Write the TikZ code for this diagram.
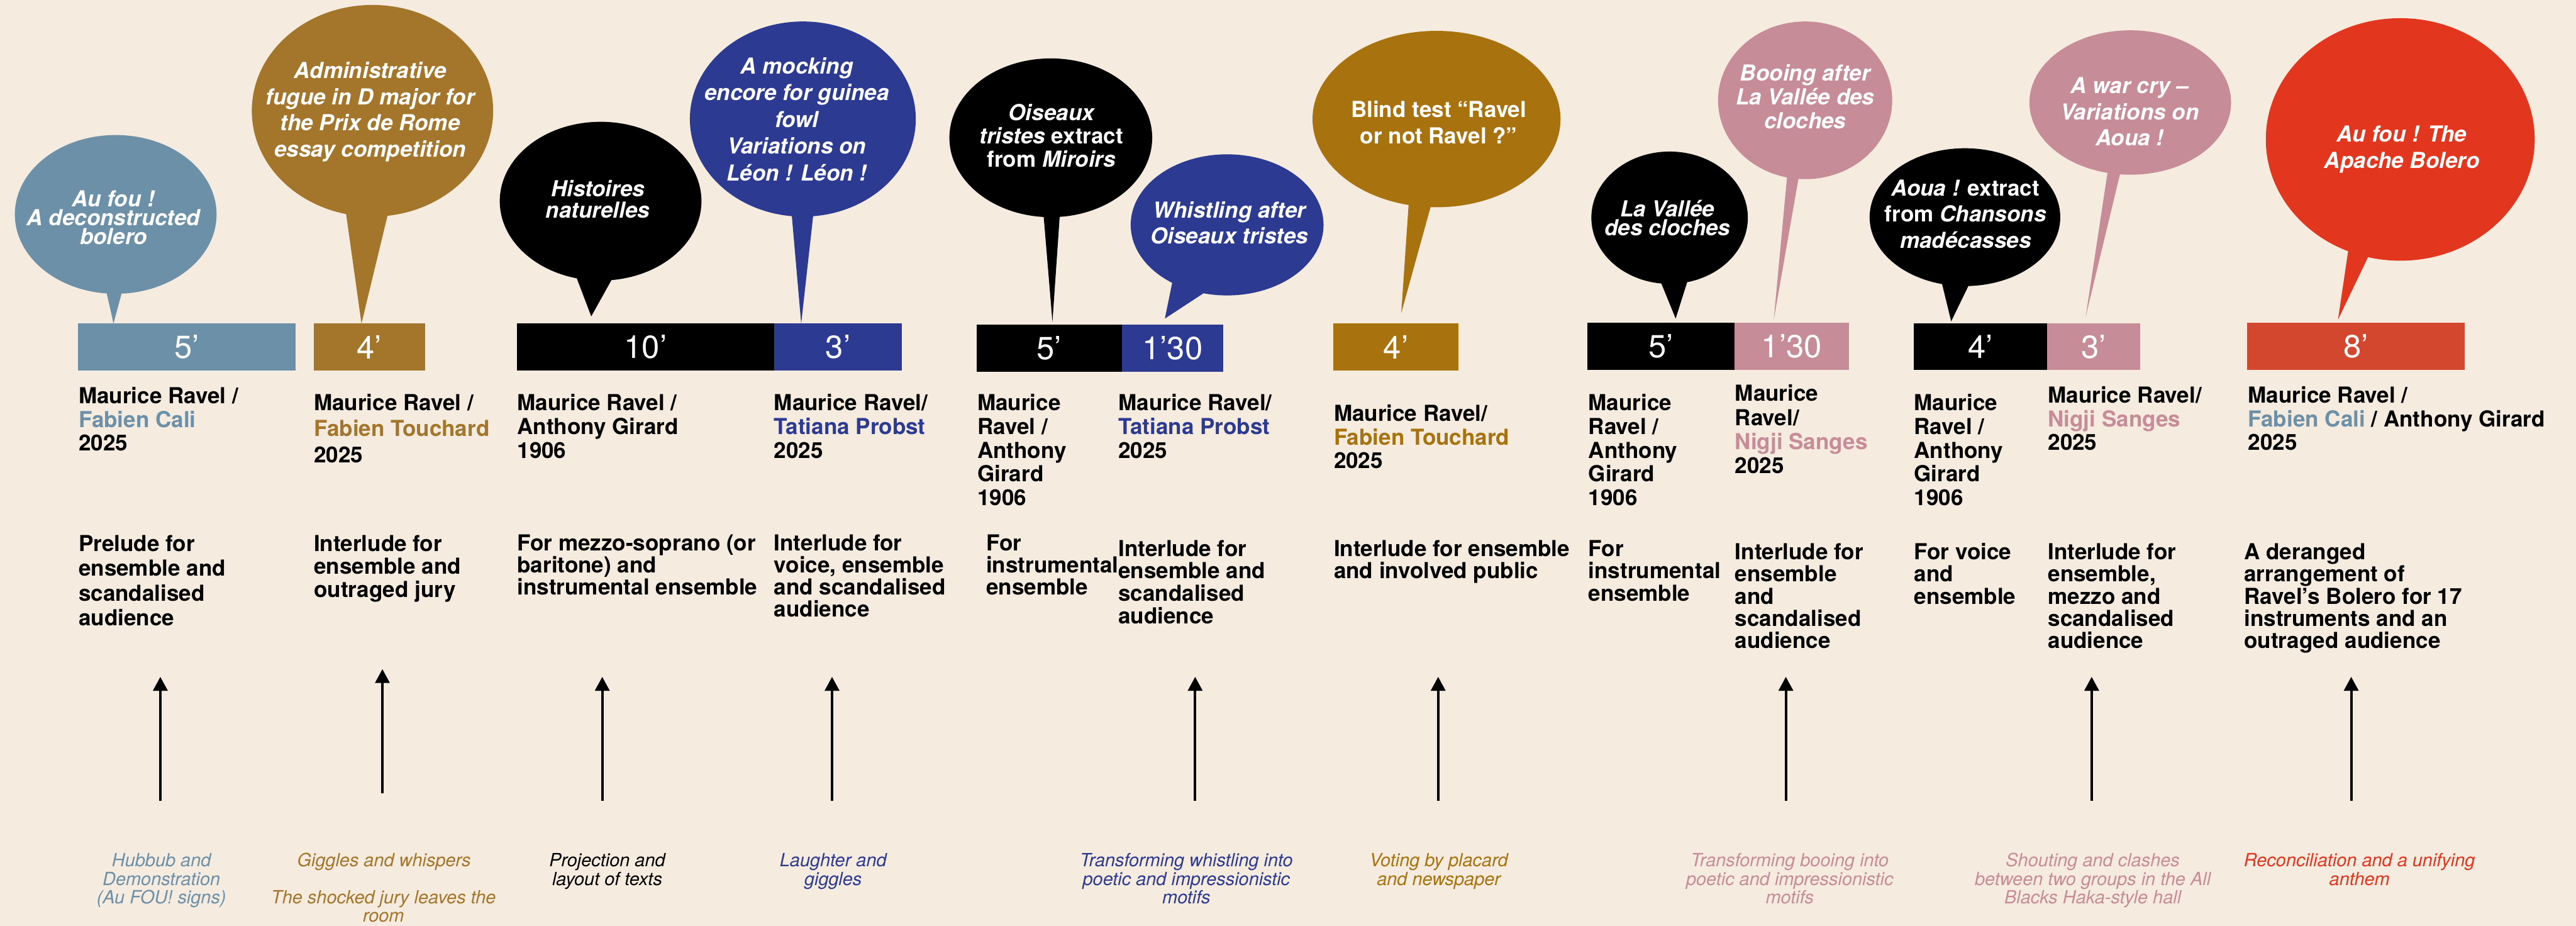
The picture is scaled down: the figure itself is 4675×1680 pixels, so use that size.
\documentclass[tikz,border=0pt]{standalone}
\usepackage{fontspec}
\setmainfont{TeX Gyre Heros}
\usetikzlibrary{arrows.meta}
\definecolor{bg}{HTML}{F5EBDF}
\definecolor{slate}{HTML}{6B90A8}
\definecolor{ochreA}{HTML}{A3762B}
\definecolor{ochreB}{HTML}{A8730E}
\definecolor{navy}{HTML}{2C3A91}
\definecolor{pink}{HTML}{C68C98}
\definecolor{redA}{HTML}{E3361E}
\definecolor{redB}{HTML}{D3472F}
% multi-line boxes whose baseline is the first line
\newcommand{\Lc}[1]{\vtop{\lineskiplimit=-\maxdimen\let\\\cr\halign{\hfil##\hfil\cr#1\crcr}}}
\newcommand{\Ll}[1]{\vtop{\lineskiplimit=-\maxdimen\let\\\cr\halign{##\hfil\cr#1\crcr}}}
\tikzset{
  nm/.style={inner sep=0pt, anchor=base west, font=\bfseries\fontsize{10}{#1}\selectfont},
  bt/.style={inner sep=0pt, anchor=base, text=white, font=\bfseries\itshape\fontsize{10}{#1}\selectfont},
  nt/.style={inner sep=0pt, anchor=base, font=\itshape\fontsize{8.25}{#1}\selectfont},
  num/.style={inner sep=0pt, text=white, font=\fontsize{14.5}{14.5}\selectfont},
  arr/.style={line width=1.1pt, -{Triangle[length=6.3pt,width=6.5pt]}},
}
\begin{document}
\begin{tikzpicture}[x=0.25pt,y=-0.25pt]
\fill[bg] (0,0) rectangle (4675,1680);
\useasboundingbox (0,0) rectangle (4675,1680);

% ---------- bubbles ----------
\fill[slate] (210,389) ellipse [x radius=183, y radius=144];
\fill[slate] (191,520) -- (206,587) -- (224,520) -- cycle;
\node[bt=8.5] (q1) at (206,375) {\Lc{Au fou !\\A deconstructed\\bolero}};

\fill[ochreA] (676,201) ellipse [x radius=219, y radius=192];
\fill[ochreA] (627,380) -- (656,587) -- (706,380) -- cycle;
\node[bt=11.9] (q2) at (672,142) {\Lc{Administrative\\fugue in D major for\\the Prix de Rome\\essay competition}};

\fill[black] (1090,365) ellipse [x radius=183, y radius=144];
\fill[black] (1043,495) -- (1073,574) -- (1117,495) -- cycle;
\node[bt=9.5] (q3) at (1085,357) {\Lc{Histoires\\naturelles}};

\fill[navy] (1457,216) ellipse [x radius=205, y radius=177];
\fill[navy] (1436,380) -- (1454,587) -- (1477,380) -- cycle;
\node[bt=12.1] (q4) at (1446,134) {\Lc{A mocking\\encore for guinea\\fowl\\Variations on\\Léon ! Léon !}};

\fill[black] (1907,250) ellipse [x radius=184, y radius=144];
\fill[black] (1893,380) -- (1910,584) -- (1924,380) -- cycle;
\node[bt=10.5] (q5) at (1908,219) {\Lc{Oiseaux\\tristes \upshape extract\\\upshape from \itshape Miroirs}};

\fill[navy] (2227,408) ellipse [x radius=175, y radius=128];
\fill[navy] (2130,500) -- (2114,578) -- (2195,525) -- cycle;
\node[bt=11.75] (q6) at (2231,395) {\Lc{Whistling after\\Oiseaux tristes}};

\fill[ochreB] (2607,216) ellipse [x radius=225, y radius=160];
\fill[ochreB] (2557,362) -- (2543,568) -- (2600,362) -- cycle;
\node[bt=12, font=\bfseries\upshape\fontsize{10}{12}\selectfont] (q7) at (2611,213) {\Lc{Blind test “Ravel\\or not Ravel ?”}};

\fill[black] (3030,395) ellipse [x radius=142, y radius=120];
\fill[black] (3010,502) -- (3041,578) -- (3065,502) -- cycle;
\node[bt=8.75] (q8) at (3026,393) {\Lc{La Vallée\\des cloches}};

\fill[pink] (3276,182) ellipse [x radius=158, y radius=143];
\fill[pink] (3244,312) -- (3219,580) -- (3266,312) -- cycle;
\node[bt=10.75] (q9) at (3276,147) {\Lc{Booing after\\La Vallée des\\cloches}};

\fill[black] (3566,394) ellipse [x radius=173, y radius=125];
\fill[black] (3522,505) -- (3541,583) -- (3579,505) -- cycle;
\node[bt=11.9] (q10) at (3567,355) {\Lc{Aoua ! \upshape extract\\\upshape from \itshape Chansons\\madécasses}};

\fill[pink] (3866,186) ellipse [x radius=183, y radius=131];
\fill[pink] (3826,305) -- (3785,575) -- (3850,305) -- cycle;
\node[bt=11.75] (q11) at (3865,170) {\Lc{A war cry –\\Variations on\\Aoua !}};

\fill[redA] (4356,253) ellipse [x radius=244, y radius=220];
\fill[redA] (4263,445) -- (4243,580) -- (4303,455) -- cycle;
\node[bt=12] (q12) at (4359,257) {\Lc{Au fou ! The\\Apache Bolero}};

% ---------- duration boxes ----------
\fill[slate] (142,587) rectangle (537,672);
\node[num] (d1) at (339.5,629.5) {5’};
\fill[ochreA] (569,587) rectangle (772,672);
\node[num] (d2) at (670.5,629.5) {4’};
\fill[black] (938,587) rectangle (1405,672);
\node[num] (d3) at (1171.5,629.5) {10’};
\fill[navy] (1405,587) rectangle (1637,672);
\node[num] (d4) at (1521,629.5) {3’};
\fill[black] (1772,589) rectangle (2036,674);
\node[num] (d5) at (1904,631.5) {5’};
\fill[navy] (2036,589) rectangle (2220,675);
\node[num] (d6) at (2128,632) {1’30};
\fill[ochreB] (2420,587) rectangle (2647,672);
\node[num] (d7) at (2533.5,629.5) {4’};
\fill[black] (2881,586) rectangle (3148,671);
\node[num] (d8) at (3014.5,628.5) {5’};
\fill[pink] (3148,586) rectangle (3355,671);
\node[num] (d9) at (3251.5,628.5) {1’30};
\fill[black] (3473,587) rectangle (3715,671);
\node[num] (d10) at (3594,629) {4’};
\fill[pink] (3715,587) rectangle (3884,671);
\node[num] (d11) at (3799.5,629) {3’};
\fill[redB] (4078,586) rectangle (4473,671);
\node[num] (d12) at (4275.5,628.5) {8’};

% ---------- composers ----------
\node[nm=10.75] (c1) at (142,732) {\Ll{Maurice Ravel /\\\textcolor{slate}{Fabien Cali}\\2025}};
\node[nm=11.75] (c2) at (569,745) {\Ll{Maurice Ravel /\\\textcolor{ochreA}{Fabien Touchard}\\2025}};
\node[nm=10.75] (c3) at (938,745) {\Ll{Maurice Ravel /\\Anthony Girard\\1906}};
\node[nm=10.75] (c4) at (1404,745) {\Ll{Maurice Ravel/\\\textcolor{navy}{Tatiana Probst}\\2025}};
\node[nm=10.75] (c5) at (1773,745) {\Ll{Maurice\\Ravel /\\Anthony\\Girard\\1906}};
\node[nm=10.75] (c6) at (2029,745) {\Ll{Maurice Ravel/\\\textcolor{navy}{Tatiana Probst}\\2025}};
\node[nm=10.75] (c7) at (2420,764) {\Ll{Maurice Ravel/\\\textcolor{ochreB}{Fabien Touchard}\\2025}};
\node[nm=10.75] (c8) at (2882,745) {\Ll{Maurice\\Ravel /\\Anthony\\Girard\\1906}};
\node[nm=10.9] (c9) at (3148,728) {\Ll{Maurice\\Ravel/\\\textcolor{pink}{Nigji Sanges}\\2025}};
\node[nm=10.75] (c10) at (3473,745) {\Ll{Maurice\\Ravel /\\Anthony\\Girard\\1906}};
\node[nm=10.75] (c11) at (3716,731) {\Ll{Maurice Ravel/\\\textcolor{pink}{Nigji Sanges}\\2025}};
\node[nm=10.75] (c12) at (4079,731) {\Ll{Maurice Ravel /\\\textcolor{slate}{Fabien Cali} / Anthony Girard\\2025}};

% ---------- descriptions ----------
\node[nm=11.25] (p1) at (142,1000) {\Ll{Prelude for\\ensemble and\\scandalised\\audience}};
\node[nm=10.5] (p2) at (569,1000) {\Ll{Interlude for\\ensemble and\\outraged jury}};
\node[nm=10] (p3) at (938,999) {\Ll{For mezzo-soprano (or\\baritone) and\\instrumental ensemble}};
\node[nm=10] (p4) at (1404,999) {\Ll{Interlude for\\voice, ensemble\\and scandalised\\audience}};
\node[nm=10] (p5) at (1789,999) {\Ll{For\\instrumental\\ensemble}};
\node[nm=10.25] (p6) at (2029,1009) {\Ll{Interlude for\\ensemble and\\scandalised\\audience}};
\node[nm=10.25] (p7) at (2420,1009) {\Ll{Interlude for ensemble\\and involved public}};
\node[nm=10.25] (p8) at (2882,1009) {\Ll{For\\instrumental\\ensemble}};
\node[nm=10.1] (p9) at (3148,1015) {\Ll{Interlude for\\ensemble\\and\\scandalised\\audience}};
\node[nm=10.1] (p10) at (3473,1015) {\Ll{For voice\\and\\ensemble}};
\node[nm=10.1] (p11) at (3716,1015) {\Ll{Interlude for\\ensemble,\\mezzo and\\scandalised\\audience}};
\node[nm=10.1] (p12) at (4072,1015) {\Ll{A deranged\\arrangement of\\Ravel's Bolero for 17\\instruments and an\\outraged audience}};

% ---------- notes ----------
\node[nt=8.5, text=slate] (n1) at (293,1572) {\Lc{Hubbub and\\Demonstration\\(Au FOU! signs)}};
\node[nt=8.5, text=ochreA] (n2) at (697,1572) {\Lc{Giggles and whispers}};
\node[nt=8.25, text=ochreA] (n2b) at (696,1640) {\Lc{The shocked jury leaves the\\room}};
\node[nt=8.5, text=black] (n3) at (1102,1572) {\Lc{Projection and\\layout of texts}};
\node[nt=8.5, text=navy] (n4) at (1512,1572) {\Lc{Laughter and\\giggles}};
\node[nt=8.5, text=navy] (n5) at (2153,1572) {\Lc{Transforming whistling into\\poetic and impressionistic\\motifs}};
\node[nt=8.5, text=ochreB] (n6) at (2611,1572) {\Lc{Voting by placard\\and newspaper}};
\node[nt=8.5, text=pink] (n7) at (3248,1572) {\Lc{Transforming booing into\\poetic and impressionistic\\motifs}};
\node[nt=8.5, text=pink] (n8) at (3798,1572) {\Lc{Shouting and clashes\\between two groups in the All\\Blacks Haka-style hall}};
\node[nt=8.5, text=redA] (n9) at (4282,1572) {\Lc{Reconciliation and a unifying\\anthem}};

% ---------- arrows ----------
\foreach \i/\x/\ya/\yb in {1/291/1453/1228, 2/694/1439/1214, 3/1093/1453/1228, 4/1510/1453/1228, 5/2169/1453/1228, 6/2610/1453/1228, 7/3241/1453/1228, 8/3796/1453/1228, 9/4267/1453/1228}{
  \coordinate (s\i) at (\x,\ya);
  \coordinate (e\i) at (\x,\yb);
  \draw[arr] (s\i) -- (e\i);
}
\end{tikzpicture}
\end{document}
